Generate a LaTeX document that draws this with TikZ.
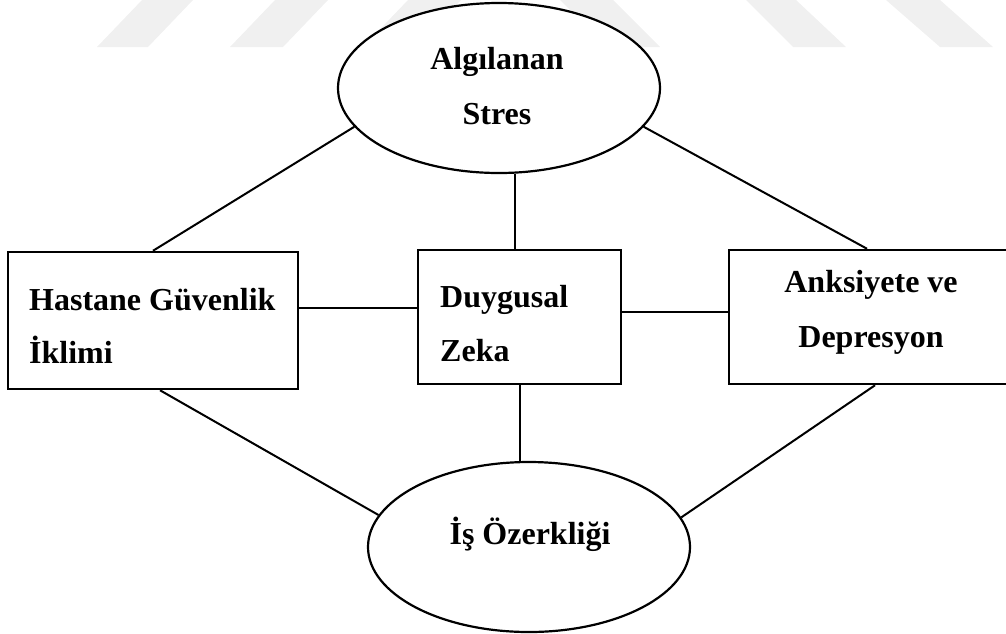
\documentclass[tikz,border=0pt]{standalone}
\usepackage{fontspec}
\setmainfont{Liberation Serif}
\usetikzlibrary{shapes.geometric}
\begin{document}
\begin{tikzpicture}[x=1pt,y=-1pt,
  box/.style={draw,line width=2.5pt,rectangle,inner sep=0pt,fill=white},
  oval/.style={draw,line width=2.2pt,ellipse,inner sep=0pt,fill=white,minimum width=322pt,minimum height=170pt},
  link/.style={line width=2pt},
  lbl/.style={font=\fontsize{32}{40}\selectfont\bfseries,inner sep=0pt},
  wm/.style={fill=black!6,draw=none}]
\useasboundingbox (0,0) rectangle (1006,633);
% faint watermark stripes
\fill[wm] (97,47) -- (148,47) -- (193,0) -- (142,0) -- cycle;
\fill[wm] (230,47) -- (283,47) -- (328,0) -- (275,0) -- cycle;
\fill[wm] (363,47) -- (416,47) -- (461,0) -- (408,0) -- cycle;
\fill[wm] (560,0) -- (613,0) -- (660,47) -- (607,47) -- cycle;
\fill[wm] (746,0) -- (796,0) -- (846,47) -- (793,47) -- cycle;
\fill[wm] (886,0) -- (940,0) -- (993,47) -- (940,47) -- cycle;
% shapes
\node[oval] (stres) at (499,88) {};
\node[oval] (is) at (529,547) {};
\node[box,minimum width=290pt,minimum height=137pt] (hgi) at (153,320.5) {};
\node[box,minimum width=203pt,minimum height=134pt] (dz) at (519.5,317) {};
\node[box,minimum width=284pt,minimum height=134pt] (ad) at (871,317) {};
% texts
\node[lbl,anchor=base] (t1) at (497,69) {Algılanan};
\node[lbl,anchor=base] (t2) at (497,124) {Stres};
\node[lbl,anchor=base west] (t3) at (29,310) {Hastane Güvenlik};
\node[lbl,anchor=base west] (t4) at (29,363) {İklimi};
\node[lbl,anchor=base west] (t5) at (440,307) {Duygusal};
\node[lbl,anchor=base west] (t6) at (440,361) {Zeka};
\node[lbl,anchor=base] (t7) at (871,292) {Anksiyete ve};
\node[lbl,anchor=base] (t8) at (871,347) {Depresyon};
\node[lbl,anchor=base] (t9) at (530,544) {İş Özerkliği};
% connectors
\draw[link] (stres.195) -- (hgi.north);
\draw[link] (stres.345) -- ([xshift=-4pt]ad.north);
\draw[link] ([xshift=-5pt]dz.north) -- ([xshift=-5pt]dz.north |- stres.south);
\draw[link] ([yshift=12.5pt]hgi.east) -- ([yshift=12.5pt]hgi.east -| dz.west);
\draw[link] ([yshift=5.5pt]dz.east) -- ([yshift=5.5pt]dz.east -| ad.west);
\draw[link] (dz.south) -- (dz.south |- is.north);
\draw[link] ([xshift=7pt]hgi.south) -- (is.168);
\draw[link] ([xshift=4pt]ad.south) -- (is.11);
\end{tikzpicture}
\end{document}
